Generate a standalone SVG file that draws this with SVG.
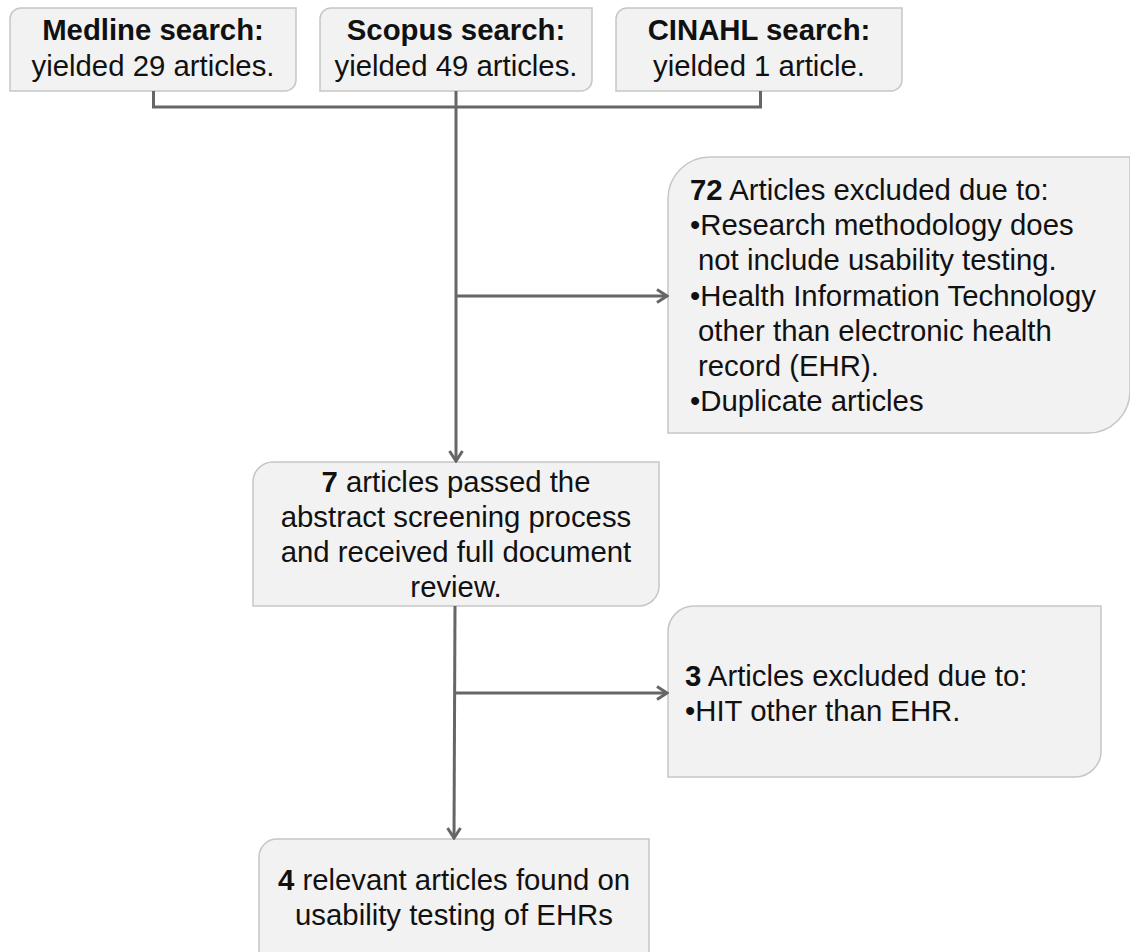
<svg xmlns="http://www.w3.org/2000/svg" width="1130" height="952" viewBox="0 0 1130 952">
<defs>
<style>
.box{fill:#f2f2f2;stroke:#c6c6c6;stroke-width:1.5}
.t{font-family:"Liberation Sans",Arial,sans-serif;font-size:29.33px;fill:#111}
.c{text-anchor:middle}
.b{font-weight:bold}
.conn{fill:none;stroke:#666;stroke-width:3}
</style>
<marker id="arr" markerUnits="userSpaceOnUse" viewBox="-13 -8 15 16" markerWidth="15" markerHeight="16" refX="0" refY="0" orient="auto">
<path d="M-10,-6.5 L0,0 L-10,6.5" fill="none" stroke="#666" stroke-width="3"/>
</marker>
</defs>
<rect width="1130" height="952" fill="#fff"/>
<g id="medline">
<path class="box" d="M21,8 H296 V80 A11,11 0 0 1 285,91 H10 V19 A11,11 0 0 1 21,8 Z"/>
<text class="t c" x="153" y="40"><tspan class="b">Medline search:</tspan></text>
<text class="t c" x="153" y="76">yielded 29 articles.</text>
</g>
<g id="scopus">
<path class="box" d="M331,8 H592 V80 A11,11 0 0 1 581,91 H320 V19 A11,11 0 0 1 331,8 Z"/>
<text class="t c" x="456" y="40"><tspan class="b">Scopus search:</tspan></text>
<text class="t c" x="456" y="76">yielded 49 articles.</text>
</g>
<g id="cinahl">
<path class="box" d="M627,8 H902 V80 A11,11 0 0 1 891,91 H616 V19 A11,11 0 0 1 627,8 Z"/>
<text class="t c" x="759" y="40"><tspan class="b">CINAHL search:</tspan></text>
<text class="t c" x="759" y="76">yielded 1 article.</text>
</g>
<g id="excluded72">
<path class="box" d="M710,157 H1130 V391 A42,42 0 0 1 1088,433 H668 V199 A42,42 0 0 1 710,157 Z"/>
<text class="t" x="690" y="200"><tspan class="b">72</tspan> Articles excluded due to:</text>
<text class="t" x="690" y="235.2">•Research methodology does</text>
<text class="t" x="698" y="270.4">not include usability testing.</text>
<text class="t" x="690" y="305.6">•Health Information Technology</text>
<text class="t" x="698" y="340.8">other than electronic health</text>
<text class="t" x="698" y="376">record (EHR).</text>
<text class="t" x="690" y="411.2">•Duplicate articles</text>
</g>
<g id="passed7">
<path class="box" d="M273,462 H659 V586 A20,20 0 0 1 639,606 H253 V482 A20,20 0 0 1 273,462 Z"/>
<text class="t c" x="456" y="492.3"><tspan class="b">7</tspan> articles passed the</text>
<text class="t c" x="456" y="527.1">abstract screening process</text>
<text class="t c" x="456" y="561.9">and received full document</text>
<text class="t c" x="456" y="596.7">review.</text>
</g>
<g id="excluded3">
<path class="box" d="M694,606 H1101 V751 A26,26 0 0 1 1075,777 H668 V632 A26,26 0 0 1 694,606 Z"/>
<text class="t" x="685" y="686"><tspan class="b">3</tspan> Articles excluded due to:</text>
<text class="t" x="685" y="721">•HIT other than EHR.</text>
</g>
<g id="relevant4">
<path class="box" d="M277,839 H649 V970 A18,18 0 0 1 631,988 H259 V857 A18,18 0 0 1 277,839 Z"/>
<text class="t c" x="454" y="890"><tspan class="b">4</tspan> relevant articles found on</text>
<text class="t c" x="454" y="925">usability testing of EHRs</text>
</g>
<g id="connectors">
<path class="conn" d="M153.5,91 V107 H760.5 V91"/>
<path class="conn" d="M456,91 V461" marker-end="url(#arr)"/>
<path class="conn" d="M456,296 H667" marker-end="url(#arr)"/>
<path class="conn" d="M455,606 L454,838" marker-end="url(#arr)"/>
<path class="conn" d="M455,693 H667" marker-end="url(#arr)"/>
</g>
</svg>
